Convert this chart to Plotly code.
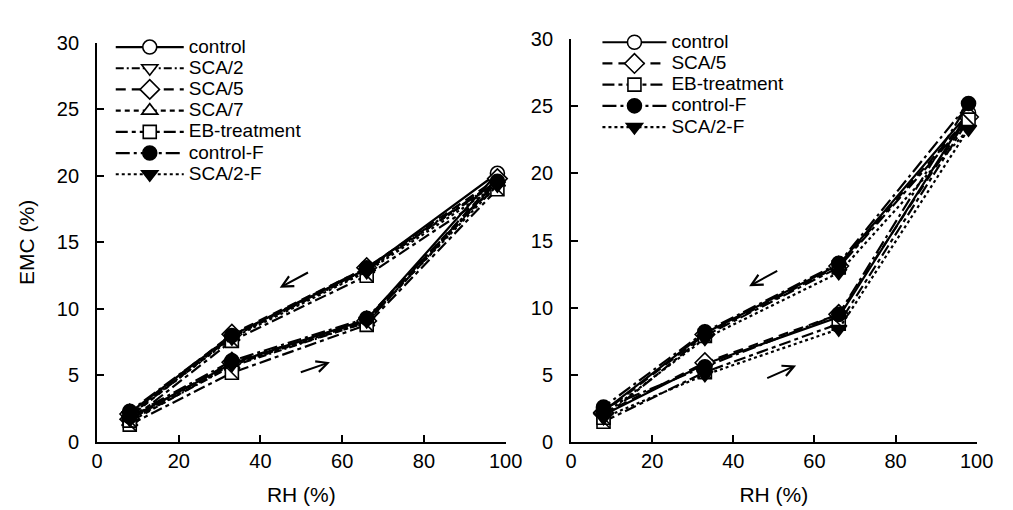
import plotly.graph_objects as go

# ---- data (adsorption 8->98, then desorption 98->8) ----
rh = [8, 33, 66, 98, 66, 33, 8]

left_names = ["control", "SCA/2", "SCA/5", "SCA/7", "EB-treatment", "control-F", "SCA/2-F"]
left_control = [1.8, 5.9, 9.2, 20.2, 13.0, 8.0, 2.2]
left_sca2 = [1.6, 5.7, 9.0, 19.6, 12.9, 7.9, 2.0]
left_sca5 = [1.7, 6.0, 9.1, 19.8, 13.1, 8.1, 2.1]
left_sca7 = [1.5, 5.8, 9.0, 19.5, 13.0, 7.9, 1.9]
left_eb = [1.3, 5.2, 8.8, 19.0, 12.5, 7.6, 1.6]
left_controlF = [1.9, 6.1, 9.3, 19.6, 13.1, 8.0, 2.3]
left_sca2F = [1.7, 5.8, 9.1, 19.3, 12.8, 7.8, 2.0]

right_names = ["control", "SCA/5", "EB-treatment", "control-F", "SCA/2-F"]
right_control = [2.0, 5.8, 9.3, 24.5, 13.2, 8.1, 2.3]
right_sca5 = [2.1, 5.9, 9.5, 24.2, 13.1, 8.0, 2.2]
right_eb = [1.5, 5.2, 8.8, 24.0, 13.0, 7.9, 1.8]
right_controlF = [2.5, 5.6, 9.5, 25.2, 13.3, 8.2, 2.6]
right_sca2F = [1.8, 5.0, 8.4, 23.3, 12.6, 7.7, 2.0]

x_ticks = [0, 20, 40, 60, 80, 100]
y_ticks = [0, 5, 10, 15, 20, 25, 30]

# ---- styles per series ----
styles = {
    "control": dict(symbol="circle", fill="white", dash="solid", size=14),
    "SCA/2": dict(symbol="triangle-down", fill="white", dash="8px,3px,2px,3px", size=14),
    "SCA/5": dict(symbol="diamond", fill="white", dash="10px,6px", size=15),
    "SCA/7": dict(symbol="triangle-up", fill="white", dash="5px,4px", size=14),
    "EB-treatment": dict(symbol="square", fill="white", dash="12px,4px,4px,4px", size=13),
    "control-F": dict(symbol="circle", fill="black", dash="14px,4px,3px,4px", size=14),
    "SCA/2-F": dict(symbol="triangle-down", fill="black", dash="3px,3px", size=14),
}

FONT = "Liberation Sans, Arial, Helvetica, sans-serif"
LEG_TXT = 19
fig = go.Figure()


def add_series(name, ys, xa, ya, legend):
    st = styles[name]
    label = "<span style='font-size:%dpx'>%s</span>" % (LEG_TXT, name)
    fig.add_trace(go.Scatter(
        x=rh, y=ys, name=label, mode="lines+markers",
        xaxis=xa, yaxis=ya, legend=legend,
        line=dict(color="black", width=2.2, dash=st["dash"]),
        marker=dict(symbol=st["symbol"], size=st["size"], color=st["fill"],
                    line=dict(color="black", width=1.6)),
        cliponaxis=False,
    ))
    if name == "EB-treatment":
        fig.add_trace(go.Scatter(
            x=rh, y=ys, mode="markers", xaxis=xa, yaxis=ya, showlegend=False,
            hoverinfo="skip",
            marker=dict(symbol="line-nw", size=st["size"],
                        line=dict(color="black", width=1.6)),
            cliponaxis=False,
        ))


for n, ys in zip(left_names, [left_control, left_sca2, left_sca5, left_sca7,
                               left_eb, left_controlF, left_sca2F]):
    add_series(n, ys, "x", "y", "legend")
for n, ys in zip(right_names, [right_control, right_sca5, right_eb,
                                right_controlF, right_sca2F]):
    add_series(n, ys, "x2", "y2", "legend2")

axis_common = dict(
    showline=True, linecolor="black", linewidth=2, ticks="inside", ticklen=7,
    tickwidth=1.5, tickcolor="black", showgrid=False, zeroline=False,
    tickfont=dict(family=FONT, size=20, color="black"),
)
title_font = dict(family=FONT, size=21, color="black")

W, H = 1013, 510
fig.update_layout(
    width=W, height=H, margin=dict(l=0, r=0, t=0, b=0),
    paper_bgcolor="white", plot_bgcolor="white",
    font=dict(family=FONT, color="black"),
    xaxis=dict(domain=[85 / W, 503 / W], range=[0, 100], tickvals=x_ticks,
               anchor="y", title=dict(text="RH (%)", font=title_font, standoff=16),
               **axis_common),
    yaxis=dict(domain=[(H - 442) / H, (H - 25) / H], range=[0, 30], tickvals=y_ticks,
               anchor="x", title=dict(text="EMC (%)", font=title_font, standoff=16),
               ticklabelstandoff=12, **axis_common),
    xaxis2=dict(domain=[570 / W, 985 / W], range=[0, 100], tickvals=x_ticks,
                anchor="y2", title=dict(text="RH (%)", font=title_font, standoff=16),
                **axis_common),
    yaxis2=dict(domain=[(H - 442) / H, (H - 21) / H], range=[0, 30], tickvals=y_ticks,
                anchor="x2", ticklabelstandoff=12, **axis_common),
    legend=dict(x=99 / W, y=(H - 13) / H, xanchor="left", yanchor="top",
                bgcolor="rgba(0,0,0,0)", itemwidth=68, tracegroupgap=0,
                font=dict(family=FONT, size=14, color="black")),
    legend2=dict(x=597 / W, y=(H - 8) / H, xanchor="left", yanchor="top",
                 bgcolor="rgba(0,0,0,0)", itemwidth=64, tracegroupgap=0,
                 font=dict(family=FONT, size=14, color="black")),
)

arrows = [
    ("x", "y", 52, 12.8, 44.7, 11.6),
    ("x", "y", 49.5, 5.2, 57.0, 6.0),
    ("x2", "y2", 51.2, 12.8, 43.9, 11.6),
    ("x2", "y2", 48.0, 4.7, 55.5, 5.7),
]
for xa, ya, x0, y0, x1, y1 in arrows:
    fig.add_annotation(x=x1, y=y1, ax=x0, ay=y0, xref=xa, yref=ya, axref=xa, ayref=ya,
                       showarrow=True, arrowhead=5, arrowsize=1.1, arrowwidth=2,
                       arrowcolor="black", text="")

fig.write_html("out.html")
